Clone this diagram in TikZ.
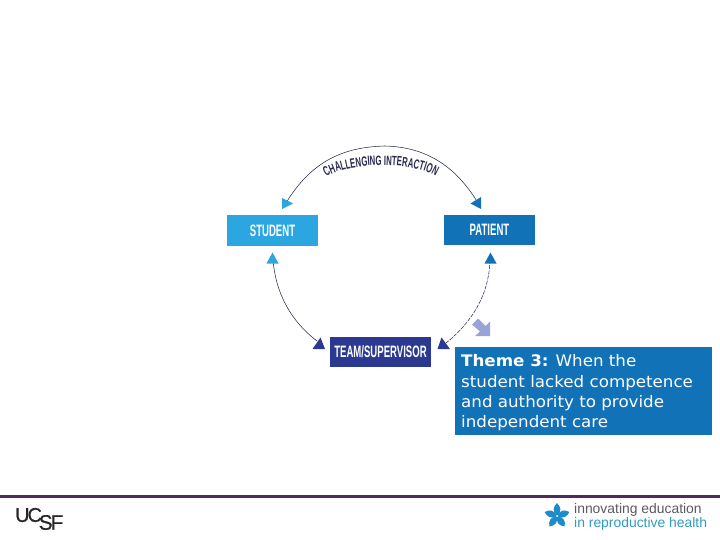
\documentclass[tikz,border=0pt]{standalone}
\usepackage{fontspec}
\setmainfont{Liberation Sans}
\newfontfamily\narrowfont[FakeStretch=0.58]{Liberation Sans}
\newfontfamily\themefont[FakeStretch=1.05]{DejaVu Sans}
\usetikzlibrary{decorations.text}
\definecolor{cstudent}{HTML}{2BA6E0}
\definecolor{cpatient}{HTML}{1272B8}
\definecolor{cteam}{HTML}{2B3990}
\definecolor{cink}{HTML}{2A2A50}
\definecolor{cpale}{HTML}{98A4D6}
\definecolor{crule}{HTML}{4E2A5E}
\definecolor{cgrey}{HTML}{5A5A5A}
\definecolor{cteal}{HTML}{2E9CC4}
\definecolor{cflower}{HTML}{1E8CCB}
\tikzset{
  rolebox/.style={minimum height=30.5pt,inner sep=0pt,text=white,font=\narrowfont\bfseries\fontsize{16.5}{17}\selectfont},
  link/.style={draw=cink,line width=0.55pt},
  linkdash/.style={draw=cink,line width=0.55pt,dash pattern=on 4pt off 1.2pt},
}
\begin{document}
\begin{tikzpicture}[x=1pt,y=-1pt]
\useasboundingbox (0,0) rectangle (720,540);
% role boxes
\node[rolebox,fill=cstudent,minimum width=91pt] (student) at (272.5,230.5) {STUDENT};
\node[rolebox,fill=cpatient,minimum width=91pt] (patient) at (489.5,230) {PATIENT};
\node[rolebox,fill=cteam,minimum width=101pt] (team) at (380.5,352) {TEAM/SUPERVISOR};
% connector ends
\coordinate (a1) at (286,203);
\coordinate (a2) at (478,203);
\coordinate (b1) at (273,260);
\coordinate (b2) at (317,341);
\coordinate (c1) at (490,260);
\coordinate (c2) at (446,343);
\draw[link] (a1) .. controls (312,160) and (345,147) .. (385,146) .. controls (425,147) and (455,165) .. (a2);
\draw[link] (b1) .. controls (276,295) and (292,322) .. (b2);
\draw[linkdash] (c1) .. controls (489,295) and (472,322) .. (c2);
% arrowheads
\fill[cstudent] (282,198) -- (293,203.5) -- (282,209) -- cycle;
\fill[cpatient] (481,197) -- (481,209) -- (470.5,203.5) -- cycle;
\fill[cstudent] (272.5,252.5) -- (278.5,263.5) -- (266.5,263.5) -- cycle;
\fill[cpatient] (490.5,252.5) -- (496.5,263.5) -- (484.5,263.5) -- cycle;
\fill[cteam] (320.5,337.5) -- (325,349) -- (312.5,349) -- cycle;
\fill[cteam] (441.5,337.5) -- (450,349) -- (437.5,349) -- cycle;
% curved caption
\path[postaction={decorate,decoration={text along path,text align=center,
  text={|\narrowfont\bfseries\fontsize{13.5}{14}\selectfont\color{cink}|CHALLENGING INTERACTION}}}]
  (323,179) .. controls (345,161) and (417,161) .. (439,178);
% small block arrow
\fill[cpale] (478,318.5) -- (485.5,326) -- (490,321.5) -- (490,336) -- (475,336) -- (480,331.5) -- (472,324.5) -- cycle;
% theme box
\node[fill=cpatient,minimum width=257pt,minimum height=88pt,inner sep=0pt] (theme) at (583.5,391) {};
\node[anchor=north west,inner sep=0pt,text=white,align=left,font=\themefont\fontsize{15.9}{20.3}\selectfont] (themetext) at (461,354.5)
  {\textbf{Theme 3:} When the\\student lacked competence\\and authority to provide\\independent care};
% footer
\fill[crule] (0,495) rectangle (720,497.5);
\node[anchor=west,inner sep=0pt,font=\fontsize{20}{20}\selectfont,text=black!85] (uc) at (15,515) {\addfontfeature{LetterSpace=-10,FakeBold=0.5}UC};
\node[anchor=west,inner sep=0pt,font=\fontsize{21}{21}\selectfont,text=black!85] (sf) at (38.5,522.5) {\addfontfeature{LetterSpace=-10,FakeBold=0.5}SF};
% flower
\foreach \a in {0,72,144,216,288}{
  \fill[cflower,rotate around={\a:(557,516)}] (557,516) .. controls (552,511) and (553,507) .. (557,503) .. controls (561,507) and (562,511) .. (557,516) -- cycle;
}
\fill[white] (557,516) circle (1);
\begin{scope}
\clip (570,500) rectangle (708,535);
\node[anchor=west,inner sep=0pt,text=cgrey,font=\fontsize{13.9}{14}\selectfont] (l1) at (574,510) {innovating education};
\node[anchor=west,inner sep=0pt,text=cteal,font=\fontsize{13.9}{14}\selectfont] (l2) at (574,524) {in reproductive health};
\end{scope}
\end{tikzpicture}
\end{document}
